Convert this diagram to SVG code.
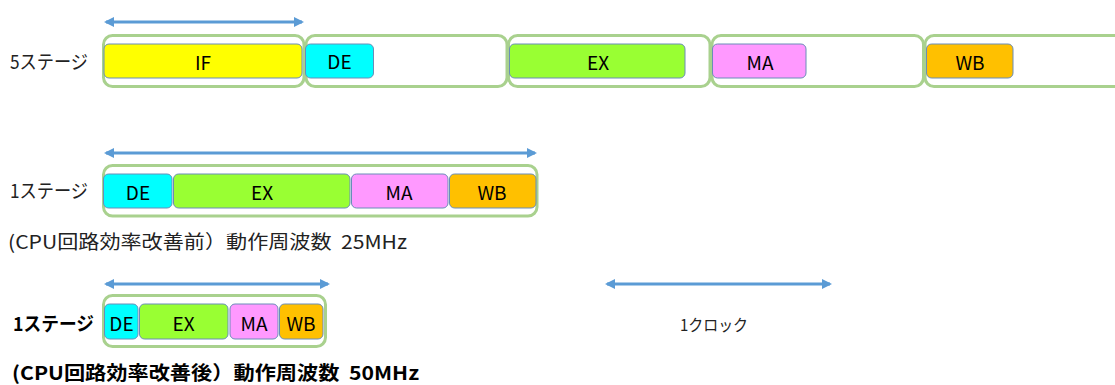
<svg xmlns="http://www.w3.org/2000/svg" width="1115" height="385" viewBox="0 0 1115 385">
<style>
.frame{fill:#ffffff;stroke:#A9D18E;stroke-width:3}
.st{stroke:#6A8DB8;stroke-width:1}
.if{fill:#FFFF00}.de{fill:#00FFFF}.ex{fill:#99FF33}.ma{fill:#FF99FF}.wb{fill:#FFC000}
.lbl{font-family:"Noto Sans CJK JP","Noto Sans",sans-serif;font-size:19px;fill:#000;text-anchor:middle;dominant-baseline:central}
.txt{font-family:"Noto Sans CJK JP","Noto Sans",sans-serif;font-size:19px;fill:#222}
.bold{font-weight:bold;fill:#000}
.arr{stroke:#5B9BD5;stroke-width:3;fill:none;marker-start:url(#ah);marker-end:url(#ah)}
</style>
<defs>
<marker id="ah" viewBox="0 0 10 10" refX="8" refY="5" markerWidth="11" markerHeight="10" markerUnits="userSpaceOnUse" orient="auto-start-reverse">
<path d="M0,0 L10,5 L0,10 Z" fill="#5B9BD5"/>
</marker>
</defs>
<rect width="1115" height="385" fill="#ffffff"/>

<g id="connectors">
<line class="arr" x1="106" y1="22" x2="302" y2="22"/>
<line class="arr" x1="106" y1="153" x2="535" y2="153"/>
<line class="arr" x1="106" y1="284" x2="328" y2="284"/>
<line class="arr" x1="607" y1="284" x2="830" y2="284"/>
</g>

<g id="row1-frames">
<rect class="frame" x="103.5" y="35.5" width="200.5" height="51" rx="9"/>
<rect class="frame" x="306" y="35.5" width="201" height="51" rx="9"/>
<rect class="frame" x="508.5" y="35.5" width="201.5" height="51" rx="9"/>
<rect class="frame" x="712" y="35.5" width="211.5" height="51" rx="9"/>
<rect class="frame" x="925" y="35.5" width="210" height="51" rx="9"/>
</g>
<g id="row1-IF"><rect class="st if" x="104" y="44" width="198" height="34" rx="5"/><text class="lbl" x="203" y="61">IF</text></g>
<g id="row1-DE"><rect class="st de" x="305.5" y="44" width="68" height="34" rx="5"/><text class="lbl" x="339.5" y="60">DE</text></g>
<g id="row1-EX"><rect class="st ex" x="509.5" y="44" width="175.5" height="34" rx="5"/><text class="lbl" x="598" y="61">EX</text></g>
<g id="row1-MA"><rect class="st ma" x="712.5" y="44" width="93.5" height="34" rx="5"/><text class="lbl" x="760" y="61">MA</text></g>
<g id="row1-WB"><rect class="st wb" x="926.5" y="44" width="86.5" height="34" rx="5"/><text class="lbl" x="970" y="61">WB</text></g>

<g id="row2">
<rect class="frame" x="103.5" y="165.5" width="433.5" height="50.5" rx="9"/>
<g id="row2-DE"><rect class="st de" x="103.5" y="174" width="68.5" height="34" rx="5"/><text class="lbl" x="138" y="191">DE</text></g>
<g id="row2-EX"><rect class="st ex" x="173.5" y="174" width="176.5" height="34" rx="5"/><text class="lbl" x="262" y="191">EX</text></g>
<g id="row2-MA"><rect class="st ma" x="351.5" y="174" width="96.5" height="34" rx="5"/><text class="lbl" x="399" y="191">MA</text></g>
<g id="row2-WB"><rect class="st wb" x="449.5" y="174" width="86.5" height="34" rx="5"/><text class="lbl" x="492" y="191">WB</text></g>
</g>

<g id="row3">
<rect class="frame" x="103.5" y="295.5" width="222" height="51" rx="9"/>
<g id="row3-DE"><rect class="st de" x="104.5" y="304" width="33.5" height="35" rx="5"/><text class="lbl" x="121.5" y="322">DE</text></g>
<g id="row3-EX"><rect class="st ex" x="139.5" y="304" width="88.5" height="35" rx="5"/><text class="lbl" x="183.5" y="322">EX</text></g>
<g id="row3-MA"><rect class="st ma" x="230" y="304" width="48" height="35" rx="5"/><text class="lbl" x="254" y="322">MA</text></g>
<g id="row3-WB"><rect class="st wb" x="279.5" y="304" width="43.5" height="35" rx="5"/><text class="lbl" x="301" y="322">WB</text></g>
</g>

<g id="labels">
<text class="txt" x="10" y="69" textLength="78" lengthAdjust="spacingAndGlyphs">5ステージ</text>
<text class="txt" x="10" y="198" textLength="78" lengthAdjust="spacingAndGlyphs">1ステージ</text>
<text class="txt" x="8" y="249" textLength="399" lengthAdjust="spacingAndGlyphs">(CPU回路効率改善前）動作周波数&#160; 25MHz</text>
<text class="txt bold" x="13" y="331" textLength="81" lengthAdjust="spacingAndGlyphs">1ステージ</text>
<text class="txt bold" x="12" y="380" textLength="407" lengthAdjust="spacingAndGlyphs">(CPU回路効率改善後）動作周波数&#160; 50MHz</text>
<text class="txt" x="680" y="331" textLength="68" lengthAdjust="spacingAndGlyphs" style="font-size:16px">1クロック</text>
</g>
</svg>
